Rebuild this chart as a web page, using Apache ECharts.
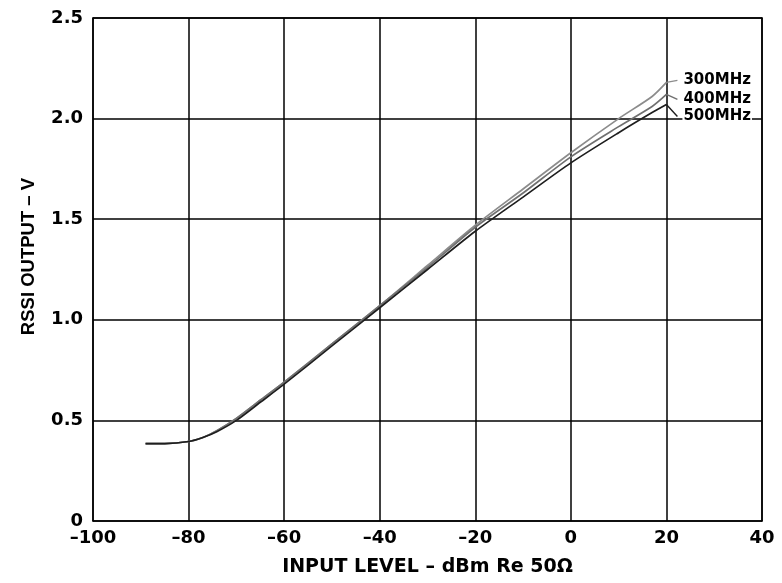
<!DOCTYPE html>
<html><head><meta charset="utf-8">
<script src="https://cdn.jsdelivr.net/npm/echarts@6/dist/echarts.min.js"></script>
<style>html,body{margin:0;padding:0;background:#fff}#c{width:782px;height:583px}</style>
</head><body><div id="c"></div>
<script>
const xValues = [-89, -85, -80, -77, -74, -70, -65, -60, -50, -40, -30, -20, -10, 0, 10, 17, 20];
const rssi300 = [0.385, 0.385, 0.395, 0.415, 0.45, 0.51, 0.60, 0.69, 0.88, 1.07, 1.27, 1.47, 1.65, 1.83, 2.00, 2.11, 2.18];
const rssi400 = [0.385, 0.385, 0.395, 0.415, 0.45, 0.51, 0.60, 0.69, 0.88, 1.07, 1.26, 1.46, 1.63, 1.81, 1.96, 2.06, 2.12];
const rssi500 = [0.385, 0.385, 0.395, 0.415, 0.445, 0.50, 0.59, 0.68, 0.87, 1.06, 1.25, 1.44, 1.61, 1.78, 1.93, 2.03, 2.07];
// leader lines from curve end to label
const leaderX = [20, 22.3];
const leader300 = [2.18, 2.19];
const leader400 = [2.12, 2.095];
const leader500 = [2.07, 2.01];
const seriesNames = ['300MHz', '400MHz', '500MHz'];
const xTicks = [-100, -80, -60, -40, -20, 0, 20, 40];
const yTicks = [0, 0.5, 1.0, 1.5, 2.0, 2.5];

const colors = ['#8c8c8c', '#707070', '#1e1e1e'];
const curves = [rssi300, rssi400, rssi500];
const leaders = [leader300, leader400, leader500];
const wideFont = 'DejaVu Sans, sans-serif';
const narrowFont = 'Liberation Sans, Arial, sans-serif';

const series = [];
curves.forEach((arr, i) => {
  series.push({
    type: 'line', name: seriesNames[i], smooth: 0.25, symbol: 'none',
    data: xValues.map((x, k) => [x, arr[k]]),
    lineStyle: { color: colors[i], width: 1.7 }, z: 5
  });
  series.push({
    type: 'line', name: seriesNames[i] + ' leader', symbol: 'none',
    data: leaderX.map((x, k) => [x, leaders[i][k]]),
    lineStyle: { color: colors[i], width: 1.4 }, z: 5,
    endLabel: { show: true, formatter: seriesNames[i], distance: 5,
      color: '#000', fontFamily: wideFont, fontWeight: 'bold', fontSize: 15,
      backgroundColor: '#fff', padding: [0, 1] }
  });
});

const axisLineStyle = { show: true, onZero: false, lineStyle: { color: '#000', width: 1.5 } };
const chart = echarts.init(document.getElementById('c'));
chart.setOption({
  animation: false,
  grid: { left: 93, right: 20, top: 18, bottom: 62 },
  xAxis: [{
    type: 'value', min: xTicks[0], max: xTicks[xTicks.length - 1], interval: 20,
    name: 'INPUT LEVEL \u2013 dBm Re 50\u03A9', nameLocation: 'middle', nameGap: 37,
    nameTextStyle: { fontFamily: wideFont, fontWeight: 'bold', fontSize: 19, color: '#000' },
    axisLine: axisLineStyle,
    axisTick: { show: false },
    axisLabel: { formatter: v => String(v).replace('-', '\u2013'), fontFamily: wideFont, fontWeight: 'bold', fontSize: 18, color: '#000', margin: 8 },
    splitLine: { show: true, lineStyle: { color: '#000', width: 1.5 } }
  }, {
    type: 'value', position: 'top', min: xTicks[0], max: xTicks[xTicks.length - 1],
    axisLine: axisLineStyle, axisLabel: { show: false }, axisTick: { show: false }, splitLine: { show: false }
  }],
  yAxis: [{
    type: 'value', min: yTicks[0], max: yTicks[yTicks.length - 1], interval: 0.5,
    name: 'RSSI OUTPUT \u2013 V', nameLocation: 'middle', nameGap: 55,
    nameTextStyle: { fontFamily: narrowFont, fontWeight: 'bold', fontSize: 18.5, color: '#000', padding: [0, 0, 0, 26] },
    axisLine: axisLineStyle,
    axisTick: { show: false },
    axisLabel: { formatter: v => v === 0 ? '0' : v.toFixed(1), fontFamily: wideFont, fontWeight: 'bold', fontSize: 18, color: '#000', margin: 10 },
    splitLine: { show: true, lineStyle: { color: '#000', width: 1.5 } }
  }, {
    type: 'value', position: 'right', min: yTicks[0], max: yTicks[yTicks.length - 1],
    axisLine: axisLineStyle, axisLabel: { show: false }, axisTick: { show: false }, splitLine: { show: false }
  }],
  series: series
});
</script></body></html>
